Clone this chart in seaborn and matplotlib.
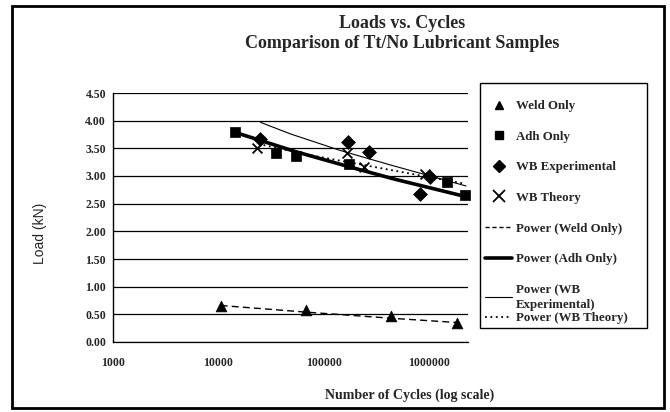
import matplotlib
matplotlib.use("Agg")
import matplotlib.pyplot as plt
import seaborn as sns
import pandas as pd
from matplotlib.lines import Line2D
from matplotlib.patches import Rectangle

# ============================================
# DATA
# ============================================

weld_cycles = [10500, 68000, 430000, 1850000]
weld_load = [0.65, 0.57, 0.47, 0.35]

adh_cycles = [14300, 35000, 55000, 175000, 1470000, 2190000]
adh_load = [3.79, 3.42, 3.36, 3.21, 2.89, 2.66]

wbexp_cycles = [24700, 168000, 266000, 1020000, 820000]
wbexp_load = [3.66, 3.61, 3.43, 2.99, 2.68]

wbth_cycles = [23400, 166000, 238000, 914000]
wbth_load = [3.50, 3.41, 3.16, 3.04]

# power trendlines, points
weld_trend_cycles = [10500, 68000, 430000, 1900000]
weld_trend_load = [0.66, 0.54, 0.43, 0.35]

adh_trend_cycles = [14300, 54000, 179000, 476000, 2190000]
adh_trend_load = [3.79, 3.44, 3.16, 2.94, 2.63]

wbexp_trend_cycles = [25100, 48300, 144000, 427000, 1020000, 2230000]
wbexp_trend_load = [3.97, 3.76, 3.46, 3.20, 3.00, 2.82]

wbth_trend_cycles = [26800, 64100, 427000, 2200000]
wbth_trend_load = [3.56, 3.40, 3.11, 2.86]

x_ticks = [1000, 10000, 100000, 1000000]
x_tick_labels = ["1000", "10000", "100000", "1000000"]
y_ticks = [0.0, 0.5, 1.0, 1.5, 2.0, 2.5, 3.0, 3.5, 4.0, 4.5]

SERIF = "Liberation Serif"
W, H = 670, 412


# ============================================
# PLOT
# ============================================

sns.set_theme(style="white")
plt.rcParams["font.family"] = [SERIF, "DejaVu Serif"]

fig = plt.figure(figsize=(6.7, 4.12), dpi=100)
ax = fig.add_axes([113 / W, 1 - 342 / H, 355 / W, 249 / H])

# trendlines
trends = [
    (weld_trend_cycles, weld_trend_load, dict(linestyle=(0, (5, 3)), lw=1.0)),
    (adh_trend_cycles, adh_trend_load, dict(linestyle="-", lw=2.6)),
    (wbexp_trend_cycles, wbexp_trend_load, dict(linestyle="-", lw=0.8)),
    (wbth_trend_cycles, wbth_trend_load, dict(linestyle=(0, (1, 2)), lw=1.3)),
]
for xs, ys, style in trends:
    df = pd.DataFrame({"cycles": xs, "load": ys})
    sns.lineplot(data=df, x="cycles", y="load", ax=ax, color="black",
                 sort=False, estimator=None, **style)

# data markers
series = [
    (weld_cycles, weld_load, "^", 60),
    (adh_cycles, adh_load, "s", 55),
    (wbexp_cycles, wbexp_load, "D", 50),
]
for xs, ys, mk, size in series:
    df = pd.DataFrame({"cycles": xs, "load": ys})
    sns.scatterplot(data=df, x="cycles", y="load", ax=ax, marker=mk, s=size,
                    color="black", edgecolor="black", linewidth=0.5, zorder=4,
                    clip_on=False)

df = pd.DataFrame({"cycles": wbth_cycles, "load": wbth_load})
sns.scatterplot(data=df, x="cycles", y="load", ax=ax, marker="x", s=50,
                color="black", linewidth=1.3, zorder=4, clip_on=False)

ax.set_xscale("log")
ax.set_xlim(1000, 2.33e6)
ax.set_ylim(0, 4.5)
ax.set_xticks(x_ticks)
ax.set_xticklabels(x_tick_labels)
ax.minorticks_off()
ax.set_yticks(y_ticks)
ax.set_yticklabels([f"{v:.2f}" for v in y_ticks])

ax.yaxis.grid(True, color="black", linewidth=0.9)
ax.xaxis.grid(False)
ax.set_axisbelow(True)
for side in ["top", "right"]:
    ax.spines[side].set_visible(False)
ax.spines["left"].set_color("black")
ax.spines["left"].set_linewidth(1.0)
ax.spines["bottom"].set_color("black")
ax.spines["bottom"].set_linewidth(0.9)

ax.tick_params(axis="y", length=0, pad=5, labelsize=8.5)
ax.tick_params(axis="x", length=0, pad=11, labelsize=8.5)
for lab in ax.get_xticklabels() + ax.get_yticklabels():
    lab.set_fontweight("bold")

ax.set_xlabel("")
ax.set_ylabel("")

# titles and axis labels
fig.text(402 / W, 1 - 23 / H, "Loads vs. Cycles", ha="center", va="center",
         fontsize=13, fontweight="bold")
fig.text(402 / W, 1 - 43 / H, "Comparison of Tt/No Lubricant Samples",
         ha="center", va="center", fontsize=13, fontweight="bold")
fig.text(410 / W, 1 - 395 / H, "Number of Cycles (log scale)", ha="center",
         va="center", fontsize=10, fontweight="bold")
fig.text(40 / W, 1 - 233 / H, "Load (kN)", ha="center", va="center",
         rotation=90, fontsize=10, family=["Liberation Sans", "DejaVu Sans"])

# legend (frame drawn separately, like the Excel box)
handles = [
    Line2D([], [], marker="^", color="black", linestyle="none", markersize=6),
    Line2D([], [], marker="s", color="black", linestyle="none", markersize=6),
    Line2D([], [], marker="D", color="black", linestyle="none", markersize=6),
    Line2D([], [], marker="x", color="black", linestyle="none", markersize=8,
           markeredgewidth=1.3),
    Line2D([], [], color="black", linestyle=(0, (3, 2)), lw=1.0),
    Line2D([], [], color="black", linestyle="-", lw=2.6),
    Line2D([], [], color="black", linestyle="-", lw=0.8),
    Line2D([], [], color="black", linestyle=(0, (1, 2)), lw=1.3),
]
labels = [
    "Weld Only", "Adh Only", "WB Experimental", "WB Theory",
    "Power (Weld Only)", "Power (Adh Only)", "Power (WB\nExperimental)",
    "Power (WB Theory)",
]
leg_kw = dict(
    loc="upper left",
    prop={"family": SERIF, "weight": "bold", "size": 9.3},
    frameon=False,
    handlelength=2.1, handletextpad=0.3, labelspacing=1.44,
    borderpad=0, borderaxespad=0,
)
# the last entry sits tight under the two-line one in the original box
leg = fig.legend(handles[:7], labels[:7], bbox_to_anchor=(485 / W, 1 - 100 / H),
                 **leg_kw)
leg.get_texts()[6].set_linespacing(1.3)
fig.legend(handles[7:], labels[7:], bbox_to_anchor=(485 / W, 1 - 312 / H),
           **leg_kw)

fig.patches.append(Rectangle((480 / W, 1 - 328 / H), 167 / W, 245 / H,
                             transform=fig.transFigure, fill=False,
                             edgecolor="black", linewidth=1.0))

# outer frame of the scanned chart
fig.patches.append(Rectangle((12 / W, 1 - 408 / H), 652 / W, 402 / H,
                             transform=fig.transFigure, fill=False,
                             edgecolor="black", linewidth=2.0))

fig.savefig("out.png", dpi=100)
